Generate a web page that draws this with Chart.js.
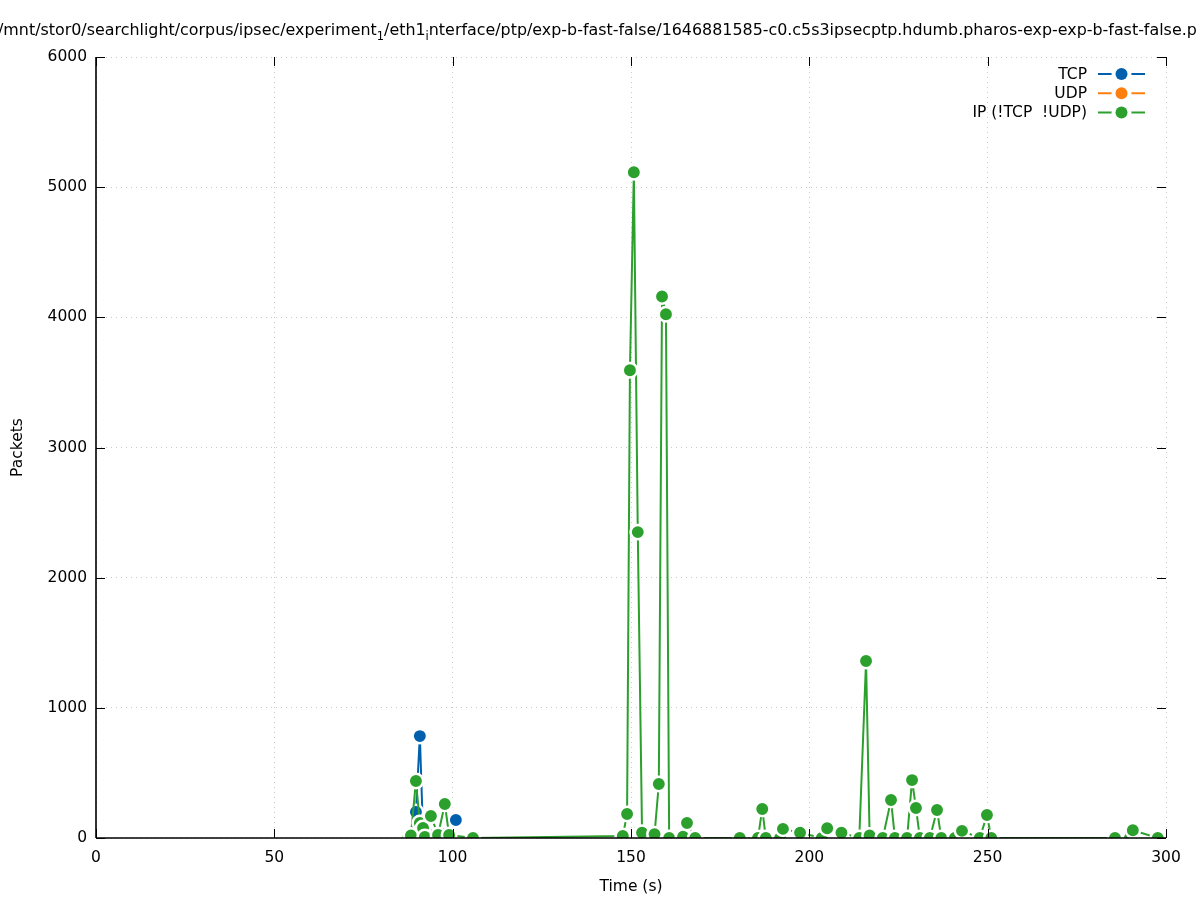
<!DOCTYPE html>
<html>
<head>
<meta charset="utf-8">
<script src="https://cdn.jsdelivr.net/npm/chart.js@4.4.0/dist/chart.umd.min.js"></script>
<style>
  html, body { margin: 0; padding: 0; background: #fff; overflow: hidden; }
  #wrap { position: relative; width: 1197px; height: 900px; overflow: hidden; }
  #chart { position: absolute; left: 0; top: 0; }
  #title { position: absolute; left: -2px; top: 20px; white-space: nowrap; font: 15.9px "DejaVu Sans"; color: #000; }
  #title sub { font-size: 0.72em; vertical-align: -0.4em; line-height: 0; }
</style>
</head>
<body>
<div id="wrap">
  <canvas id="chart" width="1197" height="900"></canvas>
  <div id="title">/mnt/stor0/searchlight/corpus/ipsec/experiment<sub>1</sub>/eth1<sub>i</sub>nterface/ptp/exp-b-fast-false/1646881585-c0.c5s3ipsecptp.hdumb.pharos-exp-exp-b-fast-false.pcap</div>
</div>
<script>
  "use strict";

  // Data
  var tcpTime    = [87.5, 88.4, 89.7, 90.8, 91.7, 92.2, 93.9, 95.9, 97.8, 99.0, 100.9];
  var tcpPackets = [0,    10,   200,  783,  30,   0,    20,   0,    30,   10,   138];

  var udpTime    = [];
  var udpPackets = [];

  var ipTime = [
    87.5, 88.3, 89.7, 90.8, 91.7, 92.2, 93.9, 95.9, 97.8, 99.0, 105.7,
    147.7, 148.9, 149.7, 150.8, 151.9, 153.1, 156.6, 157.8, 158.7, 159.8, 160.7, 164.6, 165.7, 168.0,
    180.5, 185.6, 186.8, 187.8, 191.8, 192.6, 197.4, 203.5, 205.0, 209.0, 214.0, 215.9, 216.9,
    220.6, 222.9, 224.0, 227.4, 228.8, 229.9, 231.0, 233.8, 235.8, 237.0, 240.8, 242.8, 247.8, 249.8, 251.0,
    285.7, 289.9, 290.7, 297.7
  ];
  var ipPackets = [
    0, 20, 438, 115, 77, 8, 169, 23, 261, 23, 0,
    15, 184, 3594, 5115, 2350, 40, 30, 415, 4160, 4024, 0, 10, 115, 0,
    0, 0, 223, 0, 0, 70, 40, 0, 75, 40, 0, 1360, 20,
    0, 292, 0, 0, 445, 230, 0, 0, 215, 0, 0, 55, 0, 177, 0,
    0, 0, 60, 0
  ];

  var xTicks = [0, 50, 100, 150, 200, 250, 300];
  var yTicks = [0, 1000, 2000, 3000, 4000, 5000, 6000];

  var FONT = "DejaVu Sans";

  function toPoints(xs, ys) {
    return xs.map(function (x, i) { return { x: x, y: ys[i] }; });
  }

  function series(label, color, xs, ys, order) {
    return {
      label: label,
      data: toPoints(xs, ys),
      borderColor: color,
      backgroundColor: color,
      borderWidth: 2,
      pointRadius: 7.2,
      pointBorderWidth: 2.5,
      pointBorderColor: "#ffffff",
      pointBackgroundColor: color,
      tension: 0,
      order: order,
    };
  }

  // gnuplot-like frame: inward ticks, mirrored ticks, black left/bottom border, legend
  var gnuplotFrame = {
    id: "gnuplotFrame",
    afterDatasetsDraw: function (chart) {
      var ctx = chart.ctx, a = chart.chartArea;
      var xs = chart.scales.x, ys = chart.scales.y;
      function seg(x1, y1, x2, y2) { ctx.beginPath(); ctx.moveTo(x1, y1); ctx.lineTo(x2, y2); ctx.stroke(); }
      ctx.save();
      ctx.strokeStyle = "#000";
      ctx.lineWidth = 1;
      xTicks.forEach(function (v) {
        var px = Math.round(xs.getPixelForValue(v)) + 0.5;
        seg(px, a.bottom, px, a.bottom - 9);
        seg(px, a.top, px, a.top + 9);
      });
      yTicks.forEach(function (v) {
        var py = Math.round(ys.getPixelForValue(v)) + 0.5;
        seg(a.left, py, a.left + 9, py);
        seg(a.right, py, a.right - 9, py);
      });
      ctx.lineWidth = 1.6;
      seg(a.left, a.top, a.left, a.bottom);
      seg(a.left, a.bottom, a.right, a.bottom);

      // legend, text right aligned then sample line with point
      ctx.font = "15.5px " + FONT;
      ctx.textAlign = "right";
      ctx.textBaseline = "middle";
      chart.data.datasets.forEach(function (ds, i) {
        var y = 74 + i * 19.2;
        ctx.fillStyle = "#000";
        ctx.fillText(ds.label, 1087, y + 1);
        ctx.strokeStyle = ds.borderColor;
        ctx.lineWidth = 2;
        seg(1098, y, 1145, y);
        ctx.beginPath();
        ctx.arc(1121.5, y, 10, 0, Math.PI * 2);
        ctx.fillStyle = "#fff";
        ctx.fill();
        ctx.beginPath();
        ctx.arc(1121.5, y, 6, 0, Math.PI * 2);
        ctx.fillStyle = ds.borderColor;
        ctx.fill();
      });
      ctx.restore();
    },
  };

  var ctx = document.getElementById("chart").getContext("2d");
  var myChart = new Chart(ctx, {
    type: "line",
    data: {
      datasets: [
        series("TCP", "#0060ad", tcpTime, tcpPackets, 3),
        series("UDP", "#ff7f0e", udpTime, udpPackets, 2),
        series("IP (!TCP  !UDP)", "#2ca02c", ipTime, ipPackets, 1),
      ],
    },
    options: {
      responsive: false,
      animation: false,
      events: [],
      layout: { padding: { top: 57, right: 31, left: 0, bottom: 0 } },
      plugins: {
        legend: { display: false },
        tooltip: { enabled: false },
        title: { display: false },
      },
      scales: {
        x: {
          type: "linear",
          min: 0,
          max: 300,
          afterFit: function (scale) { scale.height = 62; },
          afterBuildTicks: function (scale) { scale.ticks = xTicks.map(function (v) { return { value: v }; }); },
          ticks: { color: "#000", font: { family: FONT, size: 15.5 }, padding: 11, maxRotation: 0, callback: function (v) { return String(v); } },
          grid: { color: "#c8c8c8", lineWidth: 1, drawTicks: false },
          border: { display: false, dash: [1, 4] },
          title: { display: true, text: "Time (s)", color: "#000", font: { family: FONT, size: 15.5 }, padding: { top: 0, bottom: 4 } },
        },
        y: {
          type: "linear",
          min: 0,
          max: 6000,
          afterFit: function (scale) { scale.width = 96; },
          afterBuildTicks: function (scale) { scale.ticks = yTicks.map(function (v) { return { value: v }; }); },
          ticks: { color: "#000", font: { family: FONT, size: 15.5 }, padding: 9, callback: function (v) { return String(v); } },
          grid: { color: "#c8c8c8", lineWidth: 1, drawTicks: false },
          border: { display: false, dash: [1, 4] },
          title: { display: true, text: "Packets", color: "#000", font: { family: FONT, size: 15.5 }, padding: { top: 9, bottom: 0 } },
        },
      },
    },
    plugins: [gnuplotFrame],
  });
</script>
</body>
</html>
